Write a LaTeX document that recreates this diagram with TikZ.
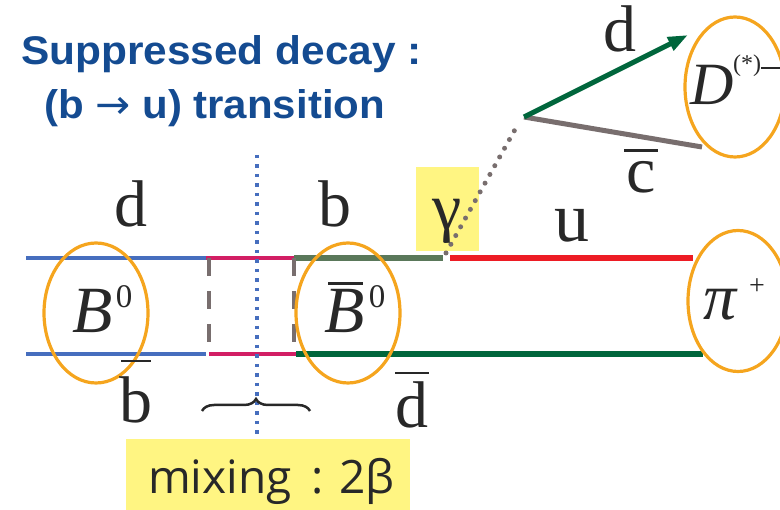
\documentclass[tikz,border=0pt]{standalone}
\usepackage{fontspec}
\setmainfont{Liberation Serif}
\newfontfamily\titlefont{Liberation Sans}
\newfontfamily\arrowfont{DejaVu Sans}
\newfontfamily\mixfont{Open Sans}
\usetikzlibrary{arrows.meta,decorations.pathreplacing,shapes.geometric}
\definecolor{titleblue}{RGB}{20,75,145}
\definecolor{lineblue}{RGB}{70,110,190}
\definecolor{qmag}{RGB}{210,30,100}
\definecolor{qgreengray}{RGB}{90,120,90}
\definecolor{qred}{RGB}{237,28,36}
\definecolor{qgreen}{RGB}{0,102,60}
\definecolor{qgray}{RGB}{120,110,110}
\definecolor{qorange}{RGB}{245,165,30}
\definecolor{qyellow}{RGB}{255,245,130}
\definecolor{txt}{RGB}{40,40,40}
\tikzset{
  quark/.style={line width=4.5pt},
  thickquark/.style={line width=6.5pt},
  hadron/.style={draw=qorange, line width=3.2pt, ellipse, fill=none},
  qlabel/.style={anchor=base, text=txt, inner sep=0pt, font=\fontsize{66}{66}\selectfont},
  suplabel/.style={text=txt, inner sep=0pt, font=\fontsize{33}{33}\selectfont},
  barline/.style={draw=txt, line width=2.5pt},
  yellowbox/.style={fill=qyellow, draw=none, inner sep=0pt}
}
\begin{document}
\begin{tikzpicture}[x=1pt,y=-1pt]
\useasboundingbox (0,0) rectangle (780,510);
% title
\node[anchor=base west, inner sep=0pt, text=titleblue, font=\titlefont\bfseries\fontsize{40}{40}\selectfont] (t1) at (21,65) {\scalebox{1.06}[1]{Suppressed decay :}};
\node[anchor=base west, inner sep=0pt, text=titleblue, font=\titlefont\bfseries\fontsize{40}{40}\selectfont] (t2) at (44,119) {\scalebox{1.05}[1]{(b {\arrowfont\mdseries →} u) transition}};
% yellow gamma box
\node[yellowbox, minimum width=63pt, minimum height=84pt] (gbox) at (447.5,209) {};
% quark lines
\coordinate (tl0) at (26,258); \coordinate (tl1) at (206,258); \coordinate (tl2) at (294,258);
\coordinate (tl3) at (443,258); \coordinate (tl4) at (450,258); \coordinate (tl5) at (693,258);
\coordinate (bl0) at (26,354); \coordinate (bl1) at (206,354); \coordinate (bl2) at (209,354);
\coordinate (bl3) at (296,354); \coordinate (bl4) at (703,354);
\draw[quark, lineblue] (tl0) -- (tl1);
\draw[quark, qmag] (tl1) -- (tl2);
\draw[thickquark, qgreengray] (tl2) -- (tl3);
\draw[thickquark, qred] (tl4) -- (tl5);
\draw[quark, lineblue] (bl0) -- (bl1);
\draw[quark, qmag] (bl2) -- (bl3);
\draw[thickquark, qgreen] (bl3) -- (bl4);
% dashed box sides
\coordinate (dl0) at (209,258); \coordinate (dl1) at (209,354);
\coordinate (dr0) at (294,258); \coordinate (dr1) at (294,354);
\draw[qgray, line width=4pt, dash pattern=on 18pt off 15pt] (dl0) -- (dl1);
\draw[qgray, line width=4pt, dash pattern=on 18pt off 15pt] (dr0) -- (dr1);
% blue dotted mixing line
\coordinate (mv0) at (257,155); \coordinate (mv1) at (257,439);
\draw[lineblue, line width=3.5pt, dash pattern=on 3.5pt off 6pt] (mv0) -- (mv1);
% decay vertex
\coordinate (vtx) at (524,117);
\coordinate (dtip) at (688,35);
\coordinate (cend) at (702,147);
\coordinate (gst) at (446,253);
\coordinate (gen) at (517,126);
\draw[qgray, line width=5pt, line cap=round, dash pattern=on 0pt off 10pt] (gst) -- (gen);
\draw[qgray, line width=5pt] (vtx) -- (cend);
\draw[qgreen, line width=5pt, -{Triangle[length=20pt,width=14pt]}] (vtx) -- (dtip);
% hadrons
\node[hadron, minimum width=104pt, minimum height=140pt] (B0) at (96,313) {};
\node[hadron, minimum width=104pt, minimum height=140pt] (B0bar) at (348,313) {};
\node[hadron, minimum width=100pt, minimum height=141pt] (pi) at (738,301) {};
\node[hadron, minimum width=100pt, minimum height=140pt] (Dm) at (735,87) {};
% hadron labels
\node[qlabel, anchor=base west] (B0t) at (72,333) {\textit{B}};
\node[suplabel] (B0s) at (124,297) {0};
\node[qlabel, anchor=base west] (B0bt) at (324,333) {\textit{B}};
\node[suplabel] (B0bs) at (377,297) {0};
\draw[barline] ([xshift=-16pt,yshift=6pt]B0bt.north) coordinate (bb0) -- ([xshift=19pt,yshift=6pt]B0bt.north) coordinate (bb1);
\node[qlabel, anchor=base west] (pit) at (703,320) {\textit{π}};
\node[suplabel, font=\fontsize{28}{28}\selectfont] (pis) at (757,287) {+};
\node[qlabel, anchor=base west, font=\fontsize{60}{60}\selectfont] (Dt) at (690,105) {\textit{D}};
\node[anchor=west, inner sep=0pt, text=txt, font=\fontsize{24}{24}\selectfont] (Ds) at (733,66) {(*)\rule[3pt]{24pt}{1.4pt}};
% quark labels
\node[qlabel] (dL) at (131,227) {d};
\node[qlabel] (bT) at (335,227) {b};
\node[qlabel, font=\fontsize{70}{70}\selectfont] (uT) at (572,242) {u};
\node[qlabel] (bB) at (136,423) {b};
\draw[barline] ([xshift=-15pt,yshift=16pt]bB.north) -- ([xshift=15pt,yshift=16pt]bB.north);
\node[qlabel] (dB) at (412,428) {d};
\draw[barline] ([xshift=-17pt,yshift=9pt]dB.north) -- ([xshift=17pt,yshift=9pt]dB.north);
\node[qlabel] (dR) at (620,52) {d};
\node[qlabel] (cR) at (641,193) {c};
\draw[barline] ([xshift=-17pt,yshift=11pt]cR.north) -- ([xshift=17pt,yshift=11pt]cR.north);
\node[qlabel] (gam) at (447,230) {γ};
% brace
\coordinate (br0) at (202,411); \coordinate (br1) at (310,411);
\draw[txt, line width=2.5pt, decorate, decoration={brace, amplitude=12pt}] (br0) -- (br1);
% mixing box
\node[yellowbox, minimum width=284pt, minimum height=71pt, anchor=north west] (mix) at (126,439) {};
\node[anchor=base west, inner sep=0pt, text=txt, font=\mixfont\fontsize{46}{46}\selectfont] (mixt) at (148,494) {mixing\, : 2β};
\end{tikzpicture}
\end{document}
